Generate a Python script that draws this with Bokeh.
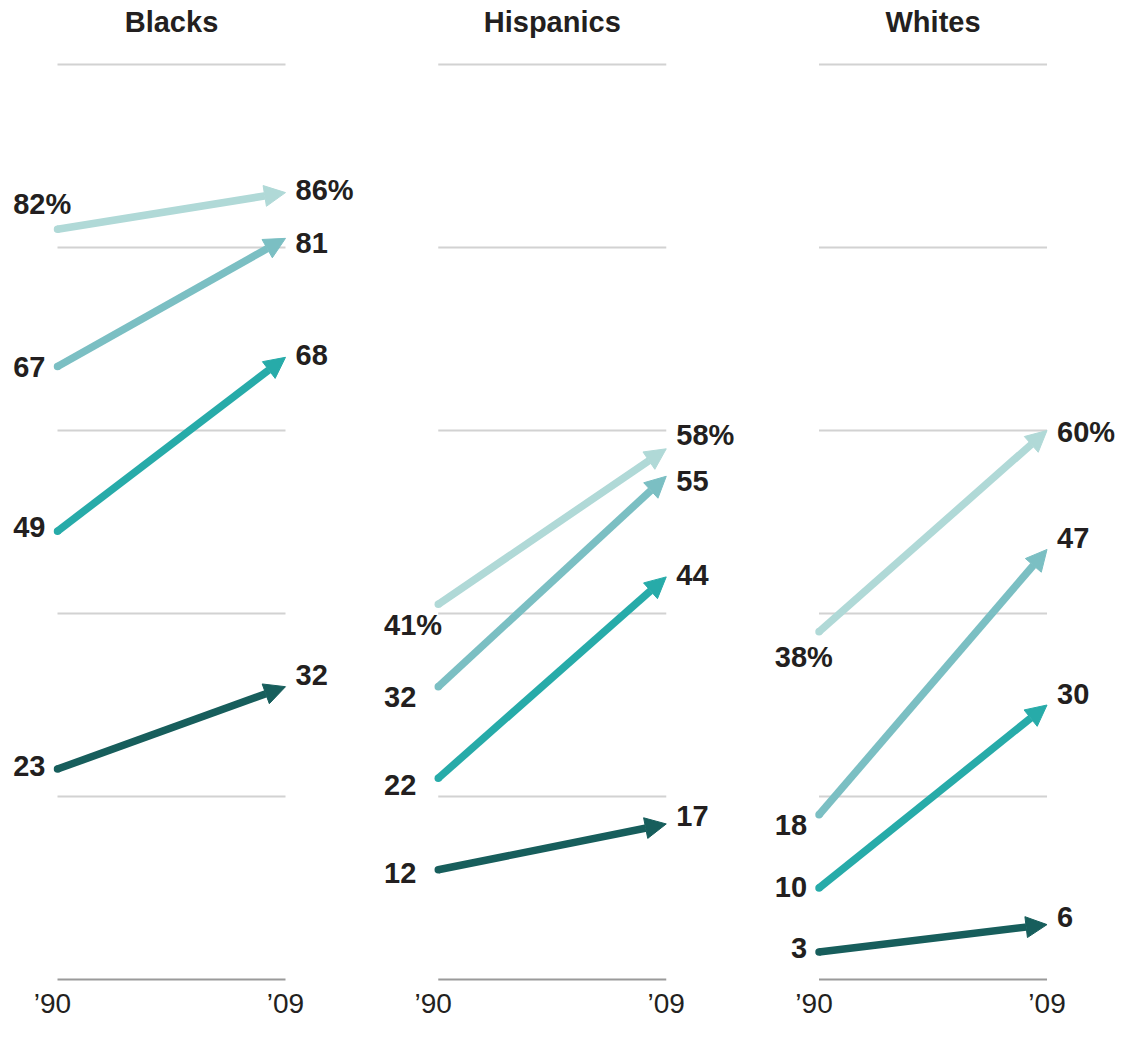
from bokeh.plotting import figure
from bokeh.models import Range1d, ColumnDataSource, Arrow, NormalHead
from bokeh.embed import file_html
from bokeh.resources import INLINE
from bokeh.core.properties import value

# ---------------- data ----------------
groups = ["Blacks", "Hispanics", "Whites"]
year_labels = ["\u201990", "\u201909"]
grid_values = [0, 20, 40, 60, 80, 100]

# four series per group, lightest shade first
s1_1990 = [82, 41, 38]
s1_2009 = [86, 58, 60]
s2_1990 = [67, 32, 18]
s2_2009 = [81, 55, 47]
s3_1990 = [49, 22, 10]
s3_2009 = [68, 44, 30]
s4_1990 = [23, 12, 3]
s4_2009 = [32, 17, 6]

series_1990 = [s1_1990, s2_1990, s3_1990, s4_1990]
series_2009 = [s1_2009, s2_2009, s3_2009, s4_2009]

# ---------------- styles / layout ----------------
colors = ["#b0d9d7", "#7bbfc3", "#27aba9", "#175e5c"]
text_color = "#231f20"
FONT = value("Liberation Sans")
PANEL_STEP = 1.67
W, H = 1124, 1021
PX_X, PX_Y = 228.0, 9.15
X0 = -57 / PX_X
Y_TOP = 100 + 64 / PX_Y
Y0 = Y_TOP - H / PX_Y
TITLE_Y = Y_TOP - 21 / PX_Y
YEAR_Y = Y_TOP - 1003 / PX_Y
LINE_W = 7.5

# label nudges in screen px (per panel, per series)
left_gap = [12, 22, 12]
left_dy = [[-25, 1, -4, -3], [21, 10, 7, 3], [25, 10, -1, -4]]
right_dy = [[-3, 5, -2, -12], [-14, 5, -2, -8], [1, -11, -11, -8]]

p = figure(width=W, height=H,
           x_range=Range1d(X0, X0 + W / PX_X),
           y_range=Range1d(Y0, Y_TOP),
           x_axis_location=None, y_axis_location=None,
           toolbar_location=None, output_backend="svg", min_border=0)
p.grid.visible = False
p.outline_line_color = None
p.background_fill_color = "white"

# gridlines
gx0, gx1, gy, gc = [], [], [], []
for i in range(len(groups)):
    for g in grid_values:
        gx0.append(i * PANEL_STEP)
        gx1.append(i * PANEL_STEP + 1)
        gy.append(g)
        gc.append("#9a9a9a" if g == 0 else "#d2d2d2")
p.segment(x0=gx0, y0=gy, x1=gx1, y1=gy, line_color=gc, line_width=2)

# arrows (round start cap drawn as a dot, body clipped by the head)
for k in range(4):
    src = ColumnDataSource(dict(
        x0=[i * PANEL_STEP for i in range(len(groups))],
        y0=series_1990[k],
        x1=[i * PANEL_STEP + 1 for i in range(len(groups))],
        y1=series_2009[k],
    ))
    p.scatter(x="x0", y="y0", source=src, size=LINE_W, marker="circle",
              fill_color=colors[k], line_color=None)
    head = NormalHead(size=21, fill_color=colors[k], line_color=colors[k], line_width=1)
    p.add_layout(Arrow(end=head, source=src, x_start="x0", y_start="y0",
                       x_end="x1", y_end="y1", line_color=colors[k],
                       line_width=LINE_W, line_cap="butt"))

# labels
lx, ly, lt, lxo, lyo = [], [], [], [], []
px_, py_, pyo, pxo = [], [], [], []
rx, ry, rt, ryo = [], [], [], []
for i in range(len(groups)):
    for k in range(4):
        lx.append(i * PANEL_STEP)
        ly.append(series_1990[k][i])
        lt.append(str(series_1990[k][i]))
        lxo.append(-left_gap[i])
        lyo.append(left_dy[i][k])
        if k == 0:
            px_.append(i * PANEL_STEP)
            py_.append(series_1990[k][i])
            pxo.append(-left_gap[i])
            pyo.append(left_dy[i][k])
        rx.append(i * PANEL_STEP + 1)
        ry.append(series_2009[k][i])
        rt.append(str(series_2009[k][i]) + ("%" if k == 0 else ""))
        ryo.append(right_dy[i][k])

common = dict(text_font=FONT, text_font_size="29px", text_font_style="bold",
              text_color=text_color, text_baseline="middle")
p.text(x=lx, y=ly, text=lt, x_offset=lxo, y_offset=lyo, text_align="right", **common)
p.text(x=px_, y=py_, text=["%"] * len(px_), x_offset=pxo, y_offset=pyo, text_align="left", **common)
p.text(x=rx, y=ry, text=rt, x_offset=10, y_offset=ryo, text_align="left", **common)

# titles
p.text(x=[i * PANEL_STEP + 0.5 for i in range(len(groups))], y=[TITLE_Y] * len(groups),
       text=groups, text_align="center", **common)

# year labels
yx, yt, yxo = [], [], []
for i in range(len(groups)):
    for j, lab in enumerate(year_labels):
        yx.append(i * PANEL_STEP + j)
        yt.append(lab)
        yxo.append(-5 if j == 0 else 0)
p.text(x=yx, y=[YEAR_Y] * len(yx), text=yt, x_offset=yxo, text_align="center",
       text_baseline="middle", text_font=FONT, text_font_size="28px",
       text_color=text_color)

open("out.html", "w").write(file_html(p, INLINE))
